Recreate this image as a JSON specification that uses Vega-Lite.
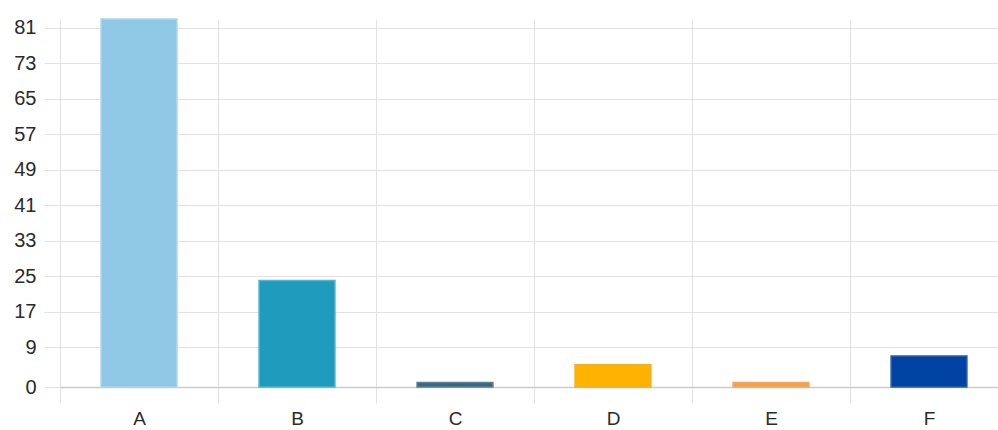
{
  "$schema": "https://vega.github.io/schema/vega-lite/v6.json",
  "width": 948,
  "height": 368,
  "autosize": {"type": "none"},
  "padding": {"left": 60, "top": 19, "right": 0, "bottom": 43},
  "background": "white",
  "config": {
    "view": {"stroke": null},
    "font": "Liberation Sans",
    "axis": {"labelFont": "Liberation Sans", "labelColor": "#2a2a2a"}
  },
  "data": {
    "values": [
      {"cat": "A", "value": 83},
      {"cat": "B", "value": 24},
      {"cat": "C", "value": 1},
      {"cat": "D", "value": 5},
      {"cat": "E", "value": 1},
      {"cat": "F", "value": 7}
    ]
  },
  "mark": {"type": "bar", "width": {"band": 0.48}, "strokeWidth": 1.5},
  "encoding": {
    "x": {
      "field": "cat",
      "type": "nominal",
      "scale": {"paddingInner": 0, "paddingOuter": 0},
      "axis": {
        "title": null,
        "labelAngle": 0,
        "labelFontSize": 19,
        "bandPosition": 0,
        "grid": true,
        "gridColor": "#e2e2e2",
        "gridWidth": 1,
        "tickColor": "#e2e2e2",
        "tickSize": 16,
        "tickBand": "extent",
        "labelPadding": 6,
        "domainColor": "#cccccc",
        "domainWidth": 1.5
      }
    },
    "y": {
      "field": "value",
      "type": "quantitative",
      "scale": {"domain": [0, 83], "nice": false},
      "axis": {
        "title": null,
        "values": [0, 9, 17, 25, 33, 41, 49, 57, 65, 73, 81],
        "labelFontSize": 20,
        "grid": true,
        "gridColor": "#e2e2e2",
        "tickColor": "#e2e2e2",
        "tickSize": 16,
        "labelPadding": 8,
        "domain": false
      }
    },
    "color": {
      "field": "cat",
      "type": "nominal",
      "legend": null,
      "scale": {
        "domain": ["A", "B", "C", "D", "E", "F"],
        "range": ["#8fc8e5", "#1f9cbd", "#3b6680", "#ffb300", "#f4a050", "#0043a3"]
      }
    },
    "stroke": {
      "field": "cat",
      "type": "nominal",
      "legend": null,
      "scale": {
        "domain": ["A", "B", "C", "D", "E", "F"],
        "range": ["#a8d5ea", "#4db3cf", "#5a8096", "#f0b020", "#f0a860", "#2a5fb0"]
      }
    }
  }
}
